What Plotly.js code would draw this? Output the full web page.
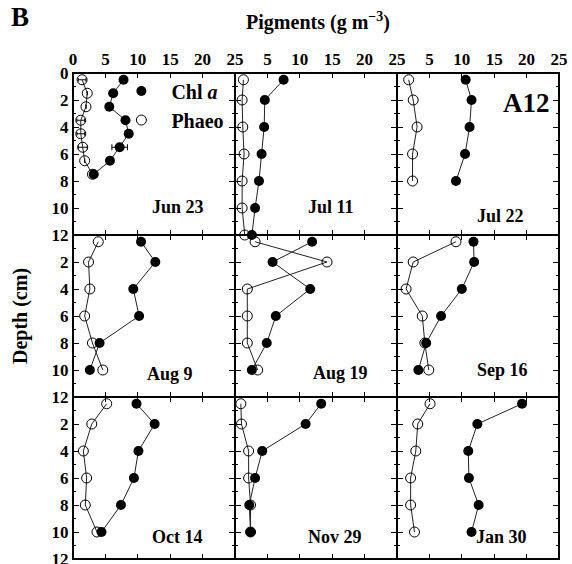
<!DOCTYPE html>
<html>
<head>
<meta charset="utf-8">
<script src="https://cdn.plot.ly/plotly-3.0.1.min.js"></script>
<style>html,body{margin:0;padding:0;background:#fff;}#chart{width:572px;height:564px;}</style>
</head>
<body>
<div id="chart"></div>
<script>
// ---- data ----
const dates = ["Jun 23", "Jul 11", "Jul 22", "Aug 9", "Aug 19", "Sep 16", "Oct 14", "Nov 29", "Jan 30"];
const depthJun23 = [0.5, 1.5, 2.5, 3.5, 4.5, 5.5, 6.5, 7.5];
const depthJul11 = [0.5, 2, 4, 6, 8, 10, 12];
const depthJul22 = [0.5, 2, 4, 6, 8];
const depthStd = [0.5, 2, 4, 6, 8, 10];

const chlJun23 = [7.8, 6.2, 5.6, 8.1, 8.6, 7.2, 5.7, 3.2];
const phaeoJun23 = [1.4, 2.2, 2.0, 1.2, 1.2, 1.5, 1.8, 3.0];
const chlJun23Err = [0, 0, 0, 0, 0, 1.2, 0, 0.5];
const phaeoJun23Err = [0.6, 0, 0, 0.6, 0.6, 0.7, 0, 0];
const chlJul11 = [7.5, 4.6, 4.5, 4.1, 3.7, 3.1, 2.6];
const phaeoJul11 = [1.3, 1.1, 1.2, 1.4, 1.1, 1.1, 1.5];
const chlJul22 = [10.6, 11.5, 11.2, 10.5, 9.1];
const phaeoJul22 = [1.8, 2.5, 3.1, 2.4, 2.4];
const chlAug9 = [10.5, 12.7, 9.3, 10.2, 4.1, 2.6];
const phaeoAug9 = [3.9, 2.4, 2.6, 1.8, 3.0, 4.6];
const chlAug19 = [11.9, 5.8, 11.6, 6.3, 4.9, 2.6];
const phaeoAug19 = [3.1, 14.2, 1.9, 1.9, 1.9, 3.5];
const chlSep16 = [11.8, 11.9, 10.0, 6.8, 4.5, 3.3];
const phaeoSep16 = [9.1, 2.5, 1.4, 3.9, 4.3, 4.9];
const chlOct14 = [9.8, 12.6, 10.1, 9.4, 7.4, 4.4];
const phaeoOct14 = [5.2, 2.9, 1.6, 2.1, 1.9, 3.7];
const chlNov29 = [13.3, 10.9, 4.2, 3.1, 2.2, 2.4];
const phaeoNov29 = [0.9, 1.0, 2.1, 2.1, 2.4, 2.4];
const chlJan30 = [19.3, 12.4, 11.0, 11.1, 12.6, 11.5];
const phaeoJan30 = [5.1, 3.2, 2.9, 2.1, 2.1, 2.7];

const xTicks = [0, 5, 10, 15, 20, 25];
const yTicks = [0, 2, 4, 6, 8, 10, 12];

// ---- build ----
const panels = [
  {d: depthJun23, chl: chlJun23, ph: phaeoJun23, chlErr: chlJun23Err, phErr: phaeoJun23Err},
  {d: depthJul11, chl: chlJul11, ph: phaeoJul11},
  {d: depthJul22, chl: chlJul22, ph: phaeoJul22},
  {d: depthStd, chl: chlAug9, ph: phaeoAug9},
  {d: depthStd, chl: chlAug19, ph: phaeoAug19},
  {d: depthStd, chl: chlSep16, ph: phaeoSep16},
  {d: depthStd, chl: chlOct14, ph: phaeoOct14},
  {d: depthStd, chl: chlNov29, ph: phaeoNov29},
  {d: depthStd, chl: chlJan30, ph: phaeoJan30}
];
// label placement (data units within each panel)
const labelX = [16.2, 14.8, 16.0, 15.0, 16.3, 16.3, 16.0, 15.5, 16.2];
const labelY = [9.9, 9.9, 10.6, 10.3, 10.2, 10.0, 10.35, 10.35, 10.35];

const FONT = "Liberation Serif, Times New Roman, serif";
const LINE = {color: "#222", width: 1};
const traces = [];
const layout = {
  width: 572, height: 564,
  margin: {l: 73, r: 13, t: 73, b: 5},
  paper_bgcolor: "#fff", plot_bgcolor: "#fff",
  font: {family: FONT, color: "#000"},
  showlegend: true,
  legend: {x: 0.079, y: 1.003, xanchor: "left", yanchor: "top", bgcolor: "rgba(0,0,0,0)",
           font: {family: FONT, size: 20, color: "#000", weight: "bold"}, itemwidth: 50, tracegroupgap: 0},
  title: {text: "<b>Pigments (g m<sup>−3</sup>)</b>", x: 0.556, xanchor: "center", y: 0.961, yanchor: "middle",
          font: {family: FONT, size: 20, color: "#000"}},
  annotations: [],
  shapes: [{type: "rect", xref: "paper", yref: "paper", x0: 0, x1: 1, y0: 0, y1: 1,
            line: {color: "#000", width: 2}, fillcolor: "rgba(0,0,0,0)", layer: "above"}]
};

panels.forEach((p, i) => {
  const n = i + 1;
  const ax = n === 1 ? "x" : "x" + n;
  const ay = n === 1 ? "y" : "y" + n;
  const col = i % 3, row = Math.floor(i / 3);
  const chlTrace = {x: p.chl, y: p.d, xaxis: ax, yaxis: ay, type: "scatter", mode: "lines+markers",
    line: LINE, marker: {symbol: "circle", size: 10, color: "#000"}, showlegend: false, cliponaxis: false};
  const phTrace = {x: p.ph, y: p.d, xaxis: ax, yaxis: ay, type: "scatter", mode: "lines+markers",
    line: LINE, marker: {symbol: "circle-open", size: 10, color: "#000", line: {width: 1}}, showlegend: false, cliponaxis: false};
  if (p.chlErr) chlTrace.error_x = {type: "data", array: p.chlErr, color: "#000", thickness: 1, width: 3};
  if (p.phErr) phTrace.error_x = {type: "data", array: p.phErr, color: "#000", thickness: 1, width: 2};
  traces.push(phTrace, chlTrace);

  const xa = {
    domain: [col / 3, (col + 1) / 3], range: [0, 25], anchor: ay, side: "top",
    tickvals: xTicks, ticktext: xTicks.map(v => (col > 0 && v === 0) ? "" : String(v)),
    showticklabels: row === 0, ticks: "inside", ticklen: 5, tickwidth: 1, tickcolor: "#000",
    showline: true, mirror: "ticks", linecolor: "#000", linewidth: 1,
    showgrid: false, zeroline: false, fixedrange: true, ticklabeloverflow: "allow",
    tickfont: {family: FONT, size: 17, color: "#000", weight: "bold"}
  };
  const ya = {
    domain: [1 - (row + 1) / 3, 1 - row / 3], range: [12, 0], anchor: ax,
    tickvals: yTicks, ticktext: yTicks.map(v => (row > 0 && v === 0) ? "" : String(v)),
    showticklabels: col === 0, ticks: "inside", ticklen: 6, tickwidth: 1, tickcolor: "#000",
    minor: {dtick: 1, ticks: "inside", ticklen: 3, tickcolor: "#000", tickwidth: 1},
    showline: true, mirror: "ticks", linecolor: "#000", linewidth: 1,
    showgrid: false, zeroline: false, fixedrange: true, ticklabeloverflow: "allow",
    tickfont: {family: FONT, size: 17, color: "#000", weight: "bold"}
  };
  layout[n === 1 ? "xaxis" : "xaxis" + n] = xa;
  layout[n === 1 ? "yaxis" : "yaxis" + n] = ya;

  layout.annotations.push({text: "<b>" + dates[i] + "</b>", xref: ax, yref: ay, x: labelX[i], y: labelY[i],
    xanchor: "center", yanchor: "middle", showarrow: false, font: {family: FONT, size: 18, color: "#000"}});
});

// legend entries
traces.push({x: [null], y: [null], type: "scatter", mode: "markers", name: "Chl <i>a</i>",
  marker: {symbol: "circle", size: 10, color: "#000"}, showlegend: true});
traces.push({x: [null], y: [null], type: "scatter", mode: "markers", name: "Phaeo",
  marker: {symbol: "circle-open", size: 10, color: "#000", line: {width: 1}}, showlegend: true});

layout.annotations.push({text: "<b>A12</b>", xref: "x3", yref: "y3", x: 20.0, y: 2.2, xanchor: "center", yanchor: "middle",
  showarrow: false, font: {family: FONT, size: 27, color: "#000"}});
layout.annotations.push({text: "<b>B</b>", xref: "paper", yref: "paper", x: -0.11, y: 1.115, xanchor: "center", yanchor: "middle",
  showarrow: false, font: {family: FONT, size: 27, color: "#000"}});
layout.annotations.push({text: "<b>Depth (cm)</b>", xref: "paper", yref: "paper", x: -0.109, y: 0.5, xanchor: "center", yanchor: "middle",
  textangle: -90, showarrow: false, font: {family: FONT, size: 20, color: "#000"}});

Plotly.newPlot("chart", traces, layout, {displayModeBar: false, staticPlot: true});
</script>
</body>
</html>
